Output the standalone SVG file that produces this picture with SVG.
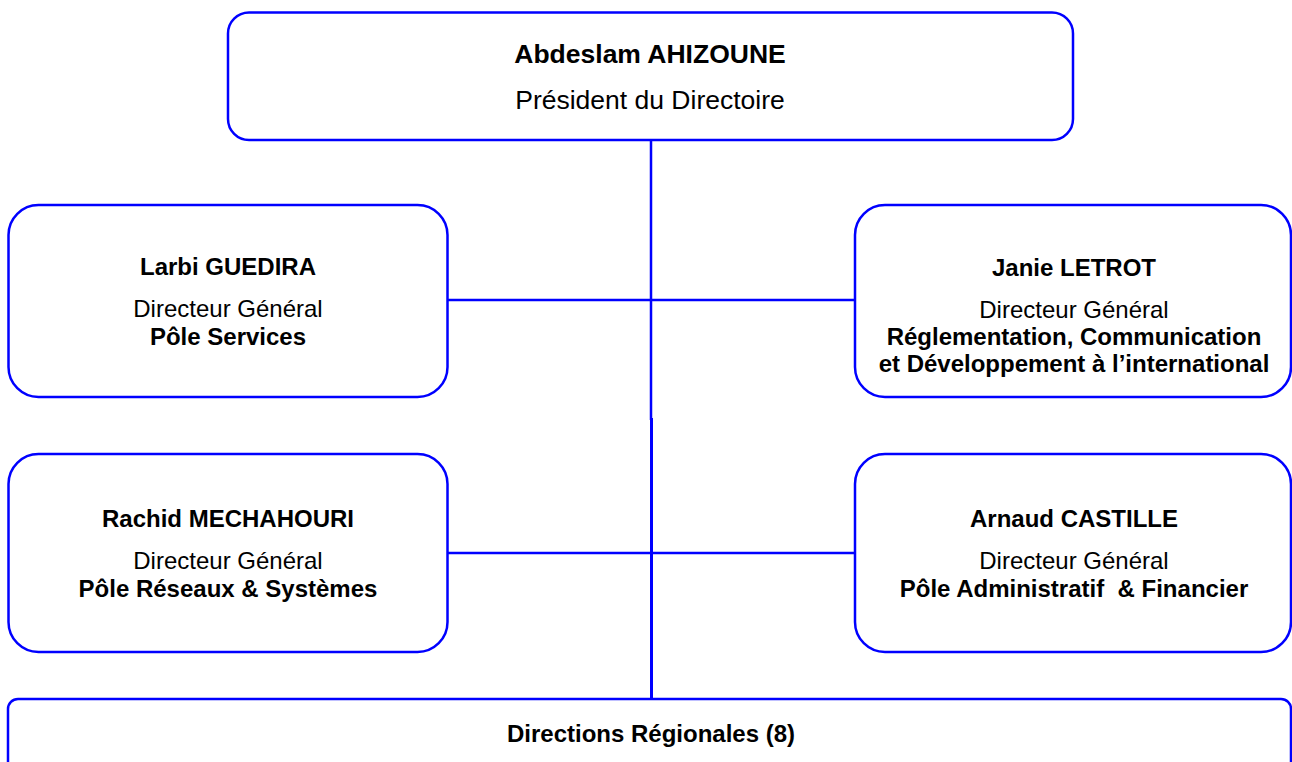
<svg xmlns="http://www.w3.org/2000/svg" width="1292" height="762" viewBox="0 0 1292 762">
<style>
.box{fill:#fff;stroke:#0000ff;stroke-width:2.5}
.ln{stroke:#0000ff;stroke-width:2.5;fill:none}
text{font-family:"Liberation Sans",Arial,sans-serif;fill:#000;text-anchor:middle}
.b{font-weight:bold;font-size:24px}
.r{font-size:24px}
.tb{font-weight:bold;font-size:26.5px}
.tr{font-size:26.5px}
</style>
<rect width="1292" height="762" fill="#fff"/>
<g id="connectors">
<line class="ln" x1="651" y1="140" x2="651" y2="420"/>
<line class="ln" x1="651.5" y1="418" x2="651.5" y2="699" style="stroke-width:3"/>
<line class="ln" x1="447" y1="300" x2="855" y2="300"/>
<line class="ln" x1="447" y1="553" x2="855" y2="553"/>
</g>
<g id="president">
<rect class="box" x="228" y="12.5" width="845" height="127.5" rx="21"/>
<text class="tb" x="650" y="63">Abdeslam AHIZOUNE</text>
<text class="tr" x="650" y="109">Président du Directoire</text>
</g>
<g id="guedira">
<rect class="box" x="8.5" y="205" width="439" height="192" rx="30"/>
<text class="b" x="228" y="275">Larbi GUEDIRA</text>
<text class="r" x="228" y="317">Directeur Général</text>
<text class="b" x="228" y="345">Pôle Services</text>
</g>
<g id="letrot">
<rect class="box" x="855" y="205" width="436" height="192" rx="30"/>
<text class="b" x="1074" y="276">Janie LETROT</text>
<text class="r" x="1074" y="318">Directeur Général</text>
<text class="b" x="1074" y="345">Réglementation, Communication</text>
<text class="b" x="1074" y="372">et Développement à l’international</text>
</g>
<g id="mechahouri">
<rect class="box" x="8.5" y="454" width="439" height="198" rx="30"/>
<text class="b" x="228" y="527">Rachid MECHAHOURI</text>
<text class="r" x="228" y="569">Directeur Général</text>
<text class="b" x="228" y="597">Pôle Réseaux &amp; Systèmes</text>
</g>
<g id="castille">
<rect class="box" x="855" y="454" width="436" height="198" rx="30"/>
<text class="b" x="1074" y="527">Arnaud CASTILLE</text>
<text class="r" x="1074" y="569">Directeur Général</text>
<text class="b" x="1074" y="597" xml:space="preserve">Pôle Administratif  &amp; Financier</text>
</g>
<g id="regionales">
<rect class="box" x="8" y="699" width="1283" height="100" rx="10"/>
<text class="b" x="651" y="742">Directions Régionales (8)</text>
</g>
</svg>
